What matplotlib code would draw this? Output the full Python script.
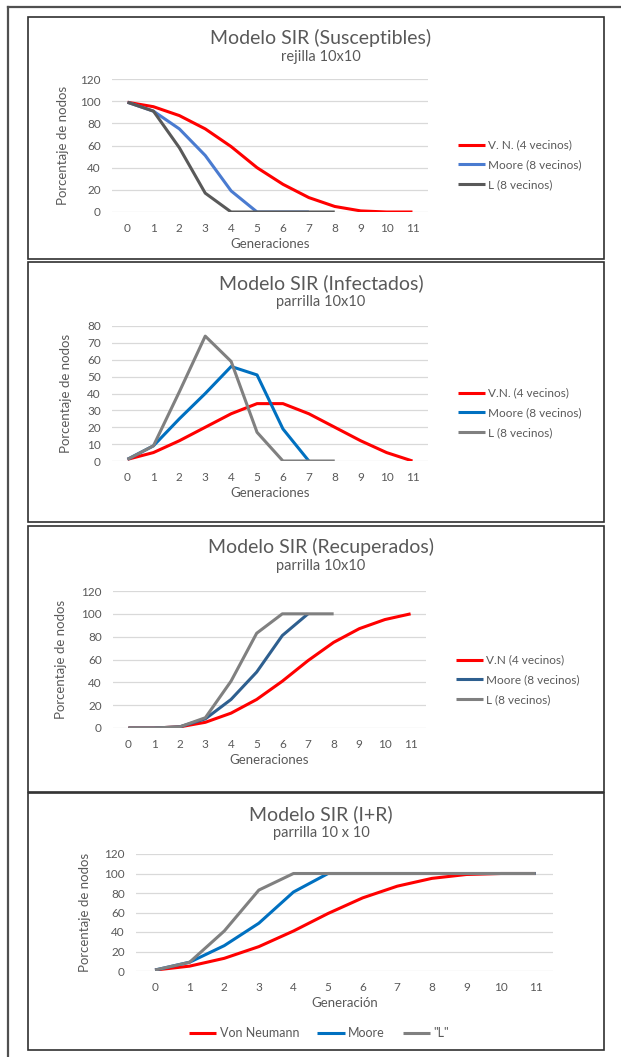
import matplotlib
matplotlib.use("Agg")
import matplotlib.pyplot as plt
from matplotlib.patches import Rectangle
from matplotlib.lines import Line2D

plt.rcParams['font.family'] = ['Lato', 'DejaVu Sans']

W, H = 621, 1057
gens = list(range(12))

# Susceptibles
sus_vn = [99, 95, 87, 75, 59, 40, 25, 13, 5, 1, 0, 0]
sus_moore = [99, 91, 75, 51, 19, 0, 0, 0]
sus_l = [99, 91, 58, 17, 0, 0, 0, 0, 0]

# Infectados
inf_vn = [1, 5, 12, 20, 28, 34, 34, 28, 20, 12, 5, 0]
inf_moore = [1, 9, 25, 40, 56, 51, 19, 0]
inf_l = [1, 9, 41, 74, 59, 17, 0, 0, 0]

# Recuperados
rec_vn = [0, 0, 1, 5, 13, 25, 41, 59, 75, 87, 95, 100]
rec_moore = [0, 0, 1, 8, 25, 49, 81, 100]
rec_l = [0, 0, 1, 9, 41, 83, 100, 100, 100]

# I+R
ir_vn = [1, 5, 13, 25, 41, 59, 75, 87, 95, 99, 100, 100]
ir_moore = [1, 9, 26, 49, 81, 100, 100, 100, 100, 100, 100, 100]
ir_l = [1, 9, 41, 83, 100, 100, 100, 100, 100, 100, 100, 100]

TXT = '#595959'
GRID = '#d9d9d9'
RED = '#ff0000'


def fx(x):
    return x / W


def fy(y):
    return 1 - y / H


fig = plt.figure(figsize=(W / 100, H / 100), dpi=100)

# outer frame
fig.add_artist(Line2D([fx(8), 1], [fy(7), fy(7)], color='#505050', lw=1.6))
fig.add_artist(Line2D([fx(8), fx(8)], [fy(7), 0], color='#505050', lw=1.6))


def panel(box, area, ylim, yticks, title, subtitle, xlabel, series, labels, colors,
          ylab_x, legend_pos, bottom_legend=False):
    bx0, by0, bx1, by1 = box
    fig.add_artist(Rectangle((fx(bx0), fy(by1)), (bx1 - bx0) / W, (by1 - by0) / H,
                             transform=fig.transFigure, fill=False,
                             ec='#303030', lw=1.2))
    x0, y0, x1, y1, xlo, xhi = area
    ax = fig.add_axes([fx(x0), fy(y1), (x1 - x0) / W, (y1 - y0) / H])
    for data, lab, col in zip(series, labels, colors):
        ax.plot(range(len(data)), data, color=col, lw=2.2, label=lab,
                solid_joinstyle='round', solid_capstyle='butt')
    ax.set_xlim(xlo, xhi)
    ax.set_ylim(*ylim)
    ax.set_yticks(yticks)
    ax.set_xticks(gens)
    ax.grid(axis='y', color=GRID, lw=0.9)
    ax.set_axisbelow(True)
    for s in ax.spines.values():
        s.set_visible(False)
    ax.tick_params(length=0, labelsize=8.5, colors=TXT, pad=8)
    ax.set_xlabel(xlabel, fontsize=9.5, color=TXT, labelpad=3)
    ax.set_ylabel('Porcentaje de nodos', fontsize=9.5, color=TXT)
    ax.yaxis.set_label_coords((ylab_x - x0) / (x1 - x0), 0.5)
    cx = (bx0 + bx1) / 2
    fig.text(fx(cx + 5), fy(by0 + 21), title, ha='center', va='center',
             fontsize=14, color=TXT)
    fig.text(fx(cx + 5), fy(by0 + 40), subtitle, ha='center', va='center',
             fontsize=10.5, color=TXT)
    if bottom_legend:
        ax.legend(loc='center', bbox_to_anchor=(fx(legend_pos[0]), fy(legend_pos[1])),
                  bbox_transform=fig.transFigure, ncol=3, frameon=False,
                  fontsize=9, labelcolor=TXT, handlelength=2.2,
                  handletextpad=0.25, columnspacing=1.45)
    else:
        ax.legend(loc='center left', bbox_to_anchor=(fx(legend_pos[0]), fy(legend_pos[1])),
                  bbox_transform=fig.transFigure, frameon=False,
                  fontsize=8.5, labelcolor=TXT, handlelength=2.3,
                  handletextpad=0.3, labelspacing=0.75)
    return ax


panel((28, 17, 604, 259), (112, 79, 428, 212, -0.6, 11.6), (0, 120), range(0, 121, 20),
      'Modelo SIR (Susceptibles)', 'rejilla 10x10', 'Generaciones',
      [sus_vn, sus_moore, sus_l],
      ['V. N. (4 vecinos)', 'Moore (8 vecinos)', 'L (8 vecinos)'],
      [RED, '#4a7bd0', '#595959'], 69, (447, 165))

panel((28, 262, 604, 522), (112, 326, 428, 461, -0.6, 11.6), (0, 80), range(0, 81, 10),
      'Modelo SIR (Infectados)', 'parrilla 10x10', 'Generaciones',
      [inf_vn, inf_moore, inf_l],
      ['V.N. (4 vecinos)', 'Moore (8 vecinos)', 'L (8 vecinos)'],
      [RED, '#0070c0', '#808080'], 72, (447, 413))

panel((28, 526, 604, 792), (113, 591, 426, 728, -0.6, 11.6), (0, 120), range(0, 121, 20),
      'Modelo SIR (Recuperados)', 'parrilla 10x10', 'Generaciones',
      [rec_vn, rec_moore, rec_l],
      ['V.N (4 vecinos)', 'Moore (8 vecinos)', 'L (8 vecinos)'],
      [RED, '#2e5f8f', '#808080'], 67, (445, 680))

panel((28, 793, 604, 1050), (136, 854, 553, 971, -0.55, 11.5), (0, 120), range(0, 121, 20),
      'Modelo SIR (I+R)', 'parrilla 10 x 10', 'Generación',
      [ir_vn, ir_moore, ir_l],
      ['Von Neumann', 'Moore', '"L"'],
      [RED, '#0070c0', '#808080'], 91, (319, 1033), bottom_legend=True)

fig.savefig('out.png', dpi=100)
